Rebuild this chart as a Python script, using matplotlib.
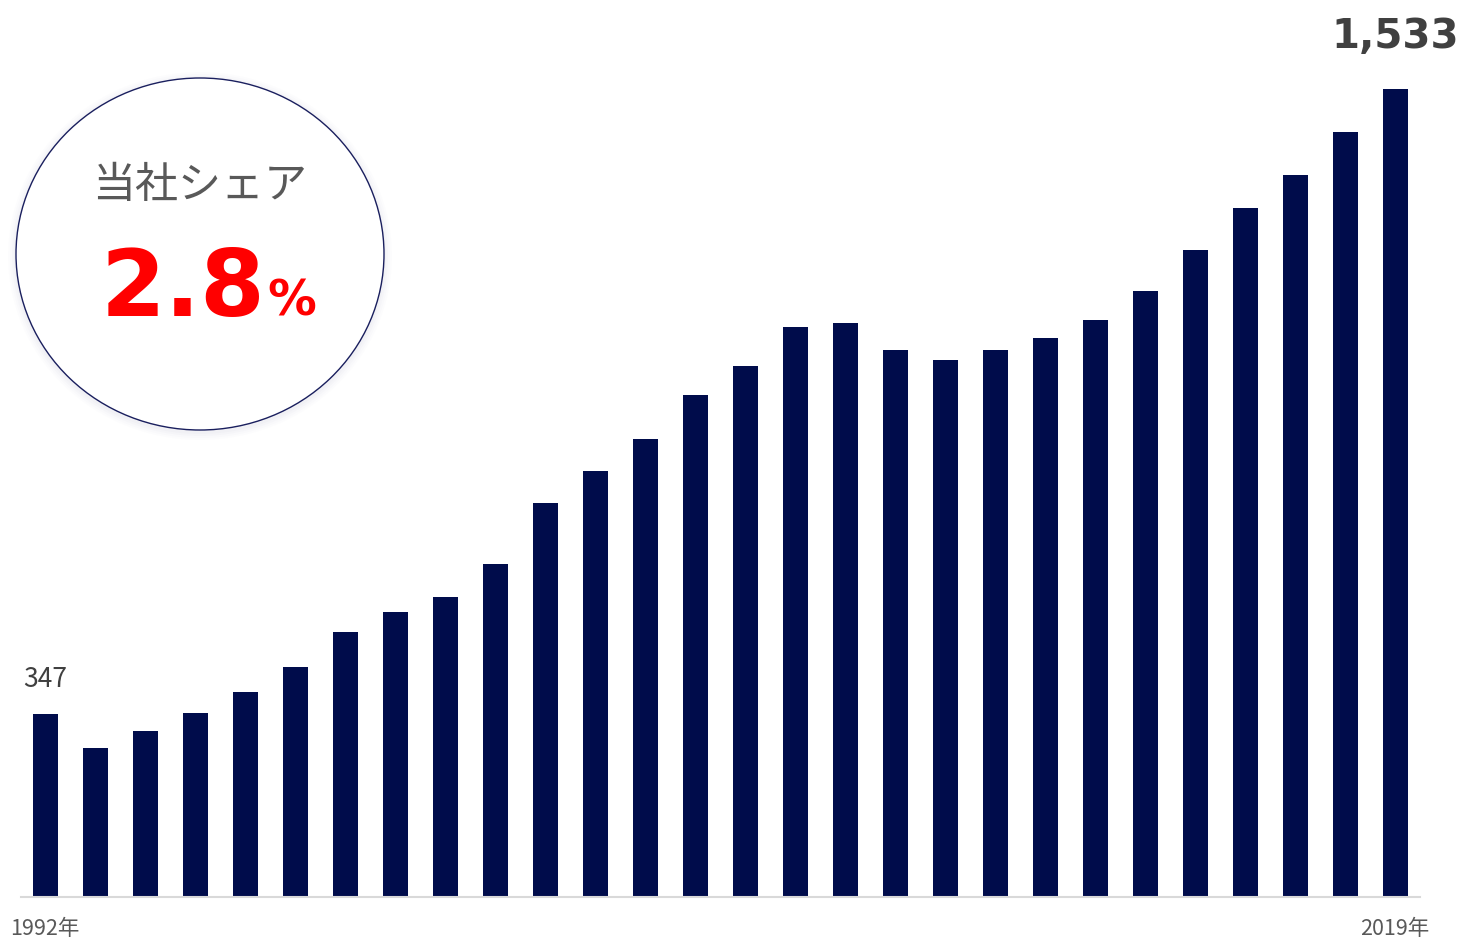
import matplotlib
matplotlib.use("Agg")
import matplotlib.pyplot as plt
from matplotlib.patches import Ellipse

years = list(range(1992, 2020))
values = [347, 283, 315, 349, 389, 436, 503, 541, 569, 632, 748, 808, 869, 952,
          1007, 1081, 1089, 1038, 1019, 1038, 1061, 1095, 1150, 1228, 1307, 1370,
          1451, 1533]
tick_labels = ["1992年", "2019年"]
share_title = "当社シェア"
share_value = "2.8"
share_unit = "%"

W, H = 1460, 943
fig = plt.figure(figsize=(W / 100, H / 100), dpi=100)
fig.patch.set_facecolor("white")

base_y = 897
ax = fig.add_axes([21 / W, (H - base_y) / H, (1420 - 21) / W, base_y / H])
x = list(range(len(values)))
ax.bar(x, values, width=0.5, color="#000c4b", zorder=2)
ax.set_xlim(-0.48, 27.5)
ax.set_ylim(0, base_y * 1533 / 808)
for s in ["top", "right", "left"]:
    ax.spines[s].set_visible(False)
ax.spines["bottom"].set_color("#d9d9d9")
ax.spines["bottom"].set_linewidth(1.5)
ax.set_yticks([])
ax.set_xticks([0, len(values) - 1])
ax.set_xticklabels(tick_labels, family=["Noto Sans CJK JP", "DejaVu Sans"],
                   fontsize=15.5, color="#595959")
ax.tick_params(axis="x", length=0, pad=15)
ax.set_facecolor("none")

ax.annotate(f"{values[0]:,}", (0, values[0]), xytext=(0, 15), textcoords="offset points",
            ha="center", va="bottom", fontsize=19, color="#404040",
            family=["Noto Sans CJK JP", "DejaVu Sans"])
ax.annotate(f"{values[-1]:,}", (len(values) - 1, values[-1]), xytext=(0, 23),
            textcoords="offset points", ha="center", va="bottom", fontsize=29,
            fontweight="bold", color="#404040", family="DejaVu Sans")

# overlay in pixel coordinates for the circle
ov = fig.add_axes([0, 0, 1, 1])
ov.set_xlim(0, W)
ov.set_ylim(H, 0)
ov.axis("off")
ov.set_facecolor("none")
cx, cy, rw, rh = 200, 254, 368, 352
for i, a in enumerate([0.03, 0.04, 0.05, 0.06]):
    d = (4 - i) * 4
    ov.add_patch(Ellipse((cx, cy + 2), rw + d, rh + d, facecolor="#b8b8d0",
                         edgecolor="none", alpha=a))
ov.add_patch(Ellipse((cx, cy), rw, rh, facecolor="white", edgecolor="#1a1f5e", lw=1.0))
ov.text(cx, 186, share_title, ha="center", va="center", fontsize=31, color="#595959",
        family=["Noto Sans CJK JP", "DejaVu Sans"])
ov.text(265, 316, share_value, ha="right", va="baseline", fontsize=67,
        fontweight="bold", color="#ff0000", family="DejaVu Sans")
ov.text(267, 315, share_unit, ha="left", va="baseline", fontsize=35,
        fontweight="bold", color="#ff0000", family="DejaVu Sans")

fig.savefig("out.png", dpi=100, facecolor="white")
